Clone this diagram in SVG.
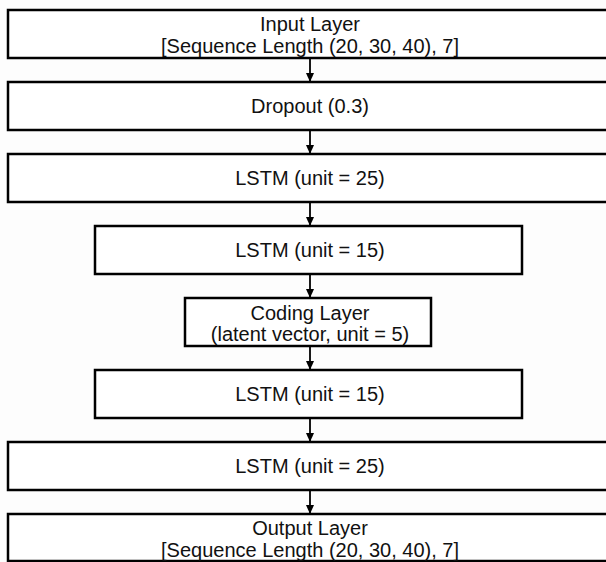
<svg xmlns="http://www.w3.org/2000/svg" width="606" height="562" viewBox="0 0 606 562">
<defs>
<style>
.box{fill:#ffffff;stroke:#000000;stroke-width:2.5}
.lbl{font-family:"Liberation Sans",Arial,sans-serif;font-size:20px;fill:#111111;text-anchor:middle}
.conn{stroke:#000000;stroke-width:1.8;fill:none}
</style>
<marker id="ah" markerWidth="10" markerHeight="10" refX="8" refY="4" orient="auto" markerUnits="userSpaceOnUse">
<path d="M0,0 L9,4 L0,8 Z" fill="#000000"/>
</marker>
</defs>
<rect x="0" y="0" width="606" height="562" fill="#fdfdfd"/>
<g id="connectors">
<line class="conn" x1="310" y1="59" x2="310" y2="81" marker-end="url(#ah)"/>
<line class="conn" x1="310" y1="131" x2="310" y2="153" marker-end="url(#ah)"/>
<line class="conn" x1="310" y1="203" x2="310" y2="225" marker-end="url(#ah)"/>
<line class="conn" x1="310" y1="275" x2="310" y2="297" marker-end="url(#ah)"/>
<line class="conn" x1="310" y1="347" x2="310" y2="369" marker-end="url(#ah)"/>
<line class="conn" x1="310" y1="419" x2="310" y2="441" marker-end="url(#ah)"/>
<line class="conn" x1="310" y1="491" x2="310" y2="513" marker-end="url(#ah)"/>
</g>
<g id="input">
<rect class="box" x="8" y="10" width="604" height="48"/>
<text class="lbl" x="310" y="31">Input Layer</text>
<text class="lbl" x="310" y="53">[Sequence Length (20, 30, 40), 7]</text>
</g>
<g id="dropout">
<rect class="box" x="8" y="82" width="604" height="48"/>
<text class="lbl" x="310" y="113">Dropout (0.3)</text>
</g>
<g id="lstm25a">
<rect class="box" x="8" y="154" width="604" height="48"/>
<text class="lbl" x="310" y="185">LSTM (unit = 25)</text>
</g>
<g id="lstm15a">
<rect class="box" x="95" y="226" width="427" height="48"/>
<text class="lbl" x="310" y="257">LSTM (unit = 15)</text>
</g>
<g id="coding">
<rect class="box" x="185" y="298" width="246" height="48"/>
<text class="lbl" x="310" y="320">Coding Layer</text>
<text class="lbl" x="310" y="341">(latent vector, unit = 5)</text>
</g>
<g id="lstm15b">
<rect class="box" x="95" y="370" width="427" height="48"/>
<text class="lbl" x="310" y="401">LSTM (unit = 15)</text>
</g>
<g id="lstm25b">
<rect class="box" x="8" y="442" width="604" height="48"/>
<text class="lbl" x="310" y="473">LSTM (unit = 25)</text>
</g>
<g id="output">
<rect class="box" x="8" y="514" width="604" height="47"/>
<text class="lbl" x="310" y="535">Output Layer</text>
<text class="lbl" x="310" y="557">[Sequence Length (20, 30, 40), 7]</text>
</g>
</svg>
